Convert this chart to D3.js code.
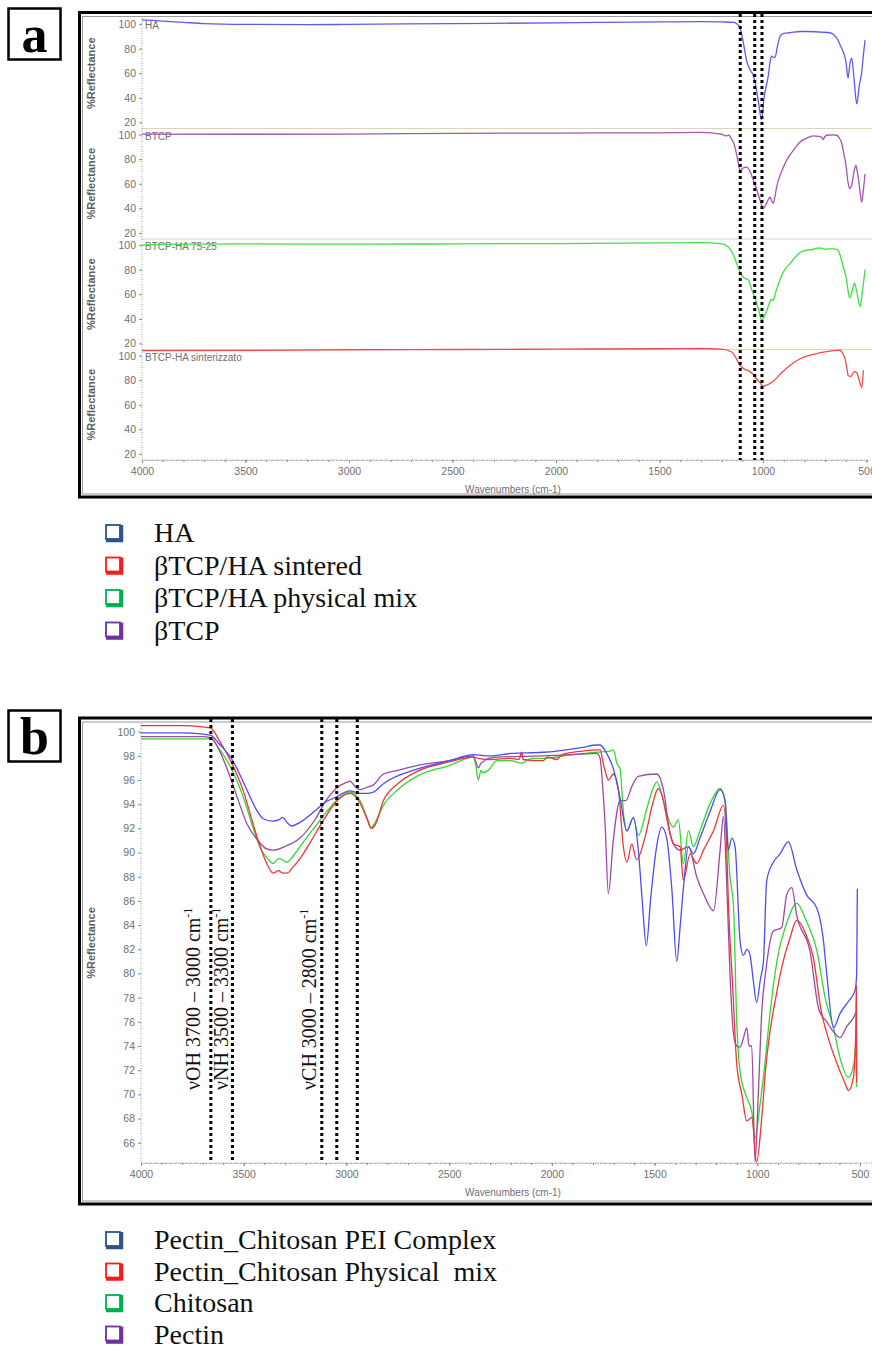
<!DOCTYPE html>
<html lang="en">
  <head>
    <meta charset="UTF-8" />
    <title>FTIR spectra</title>
    <style type="text/css">
      body {
        margin: 0;
        background: #ffffff;
        font-family: Arial, "Liberation Sans", sans-serif;
      }
      svg {
        display: block;
      }
      .axis text {
        font-family: Arial, "Liberation Sans", sans-serif;
        font-size: 10.5px;
        fill: #707070;
      }
      .axis .domain {
        stroke: #9a9a9a;
        stroke-dasharray: 1, 1.5;
      }
      .axis .tick line {
        stroke: #8a8a8a;
      }
      .axis-title {
        font-family: Arial, "Liberation Sans", sans-serif;
        font-size: 10px;
        fill: #707070;
      }
      .ylabel {
        font-size: 11px;
        font-weight: bold;
        fill: #5a5a5a;
      }
      .legend-text {
        font-family: "Times New Roman", "Liberation Serif", serif;
        font-size: 28px;
        fill: #111;
        white-space: pre;
      }
      .band-label {
        font-family: "Times New Roman", "Liberation Serif", serif;
        font-size: 20px;
        fill: #111;
      }
    </style>
  </head>
  <body>
    <script src="https://d3js.org/d3.v7.min.js"></script>
    <script>
      // ---- panel a : [wavenumber, %reflectance] ----
      var haSpectrum = [
        [4000, 103.5], [3900, 102.5], [3800, 101.5], [3700, 100.5], [3500, 99.8],
        [3200, 99.6], [3000, 99.8], [2500, 100.5], [2000, 101], [1800, 101.5],
        [1500, 101.8], [1300, 102], [1200, 101.8], [1140, 101.5], [1125, 100],
        [1111, 97], [1095, 85], [1079, 70], [1060, 62], [1047, 58.5], [1025, 40],
        [1007, 22], [995, 40], [975, 57.5], [965, 70], [958, 74], [950, 73],
        [942, 73], [930, 82], [918, 90], [900, 92.5], [870, 93], [820, 94],
        [790, 94], [720, 93.5], [676, 93], [650, 90], [638, 87], [625, 82],
        [614, 78], [600, 70], [589, 56], [580, 68], [571, 72], [560, 55],
        [547, 35], [535, 50], [523, 61], [515, 75], [507, 87]
      ];
      var btcpSpectrum = [
        [4000, 100.5], [3500, 100.3], [3000, 100.5], [2500, 101], [2000, 101.3],
        [1500, 101.5], [1300, 101.8], [1200, 100.5], [1180, 99], [1165, 99.5],
        [1150, 96], [1140, 92.5], [1125, 82], [1111, 71], [1095, 73], [1079, 73.5],
        [1060, 69], [1047, 63], [1030, 55], [1015, 47], [999, 40], [983, 44],
        [975, 47], [966, 49], [958, 46], [950, 44], [942, 50], [934, 57.5],
        [910, 70], [886, 79], [850, 88], [821, 94], [790, 97], [757, 99],
        [730, 98.5], [717, 98], [710, 96], [700, 98.5], [693, 99.5], [660, 99.8],
        [645, 99.5], [630, 97], [620, 93], [610, 85], [598, 73.6], [590, 62],
        [582, 56], [570, 60], [558, 72], [551, 75], [545, 70], [538, 63],
        [530, 52], [523, 45], [515, 55], [507, 68]
      ];
      var mixSpectrum = [
        [4000, 100], [3800, 100.8], [3500, 101], [3000, 100.8], [2500, 101],
        [2000, 101.3], [1500, 101.8], [1300, 102], [1200, 101], [1160, 97],
        [1143, 92], [1125, 84], [1111, 78], [1090, 73], [1072, 72], [1055, 64],
        [1039, 57], [1020, 47], [1007, 38.4], [998, 41], [990, 43], [975, 50],
        [966, 54], [958, 56], [950, 55], [942, 60], [934, 64], [918, 72],
        [902, 78], [870, 85], [821, 94], [790, 96], [760, 96.5], [740, 97.5],
        [717, 97.6], [700, 96.5], [690, 97], [660, 97], [638, 96], [628, 92],
        [615, 84], [598, 73], [590, 64], [582, 57], [570, 62], [558, 69],
        [548, 63], [531, 50], [520, 62], [507, 80]
      ];
      var sinteredSpectrum = [
        [4000, 104], [3500, 104.3], [3000, 104.8], [2500, 105], [2000, 105.3],
        [1500, 105.6], [1300, 105.8], [1200, 105.3], [1152, 103], [1130, 98],
        [1111, 92], [1090, 89], [1072, 88], [1050, 85], [1031, 81], [1015, 78],
        [999, 75], [985, 76], [975, 76.5], [960, 78], [950, 79], [930, 82.5],
        [910, 86], [870, 92], [821, 97.5], [780, 100], [741, 101.7], [700, 103],
        [660, 104], [628, 104.4], [615, 102], [604, 97.5], [595, 90], [588, 83.6],
        [575, 83], [560, 87], [547, 86], [535, 80], [523, 74], [515, 88]
      ];

      var panelASeries = [haSpectrum, btcpSpectrum, mixSpectrum, sinteredSpectrum];
      var panelANames = ["HA", "BTCP", "BTCP-HA 75-25", "BTCP-HA sinterizzato"];
      var panelAColors = ["#5c5cf2", "#a556ad", "#3fe03f", "#f24a4a"];
      var panelAMarks = [1110, 1040, 1005];
      var panelAYTicks = [20, 40, 60, 80, 100];

      // ---- panel b ----
      var peiSpectrum = [
        [4000, 99.9], [3800, 99.9], [3700, 99.8], [3660, 99.7], [3620, 99],
        [3553, 97.6], [3485, 95.2], [3440, 93.6], [3405, 92.8], [3360, 92.6],
        [3330, 92.7], [3310, 92.9], [3290, 92.5], [3266, 92.2], [3226, 92.5],
        [3150, 93.5], [3100, 94.2], [3050, 94.6], [2982, 95.1], [2934, 94.9],
        [2900, 94.9], [2869, 95], [2820, 95.7], [2658, 96.9], [2500, 97.6],
        [2382, 98.1], [2300, 98], [2200, 98.2], [2043, 98.3], [1976, 98.4],
        [1850, 98.7], [1781, 98.9], [1765, 98.9], [1733, 98.2], [1700, 96.9],
        [1668, 94.5], [1635, 91.8], [1603, 92.9], [1579, 90.2], [1560, 86],
        [1540, 82.3], [1520, 86], [1490, 90.5], [1465, 92.1], [1441, 91.2],
        [1416, 87], [1392, 81], [1375, 84], [1360, 87], [1335, 90.5],
        [1311, 89.9], [1279, 91.2], [1230, 93.4], [1181, 95.2], [1157, 94.3],
        [1141, 90.2], [1124, 91.2], [1108, 90.5], [1084, 82.7], [1068, 81.5],
        [1050, 82], [1035, 81.5], [1020, 79.5], [1003, 77.6], [985, 79.5],
        [970, 81], [954, 87.7], [922, 89.2], [889, 89.9], [849, 90.9],
        [808, 88.6], [760, 86.5], [710, 85.4], [680, 83], [662, 80], [629, 75.5],
        [597, 76.7], [556, 77.7], [524, 78.6], [516, 80], [513, 87]
      ];
      var physMixSpectrum = [
        [4000, 100.5], [3800, 100.5], [3700, 100.4], [3660, 100.3], [3620, 99.3],
        [3550, 97.1], [3500, 95], [3455, 92.4], [3420, 90.5], [3388, 89.1],
        [3357, 88.3], [3330, 88.5], [3310, 88.3], [3290, 88.3], [3260, 88.8],
        [3226, 89.5], [3150, 91.6], [3100, 93], [3050, 94.2], [2982, 94.9],
        [2934, 94.1], [2900, 92.8], [2880, 92], [2860, 92.3], [2820, 94.3],
        [2750, 95.7], [2658, 96.7], [2500, 97.5], [2382, 97.9], [2358, 97.8],
        [2300, 97.7], [2200, 97.8], [2160, 97.7], [2147, 98.3], [2140, 97.7],
        [2043, 97.6], [2020, 97.9], [1976, 97.7], [1950, 98.1], [1850, 98.4],
        [1781, 98.5], [1765, 98.5], [1750, 97.4], [1733, 96.3], [1725, 96],
        [1700, 96.5], [1676, 95.2], [1652, 90.5], [1635, 89.2], [1611, 90.7],
        [1587, 89.4], [1546, 91.3], [1510, 94], [1482, 95.3], [1460, 94.5],
        [1441, 92.9], [1408, 90.7], [1376, 90.5], [1360, 87.7], [1327, 89.9],
        [1295, 89.1], [1262, 90.2], [1213, 91.8], [1165, 93.9], [1150, 91],
        [1141, 86], [1120, 79], [1100, 72.5], [1075, 70], [1051, 67.8],
        [1027, 68.1], [1003, 64.4], [980, 67.7], [960, 72], [938, 75.2],
        [910, 78], [881, 80.5], [840, 83], [808, 84.4], [760, 83.1], [727, 81.3],
        [690, 77], [646, 74.2], [597, 71.9], [570, 70.8], [556, 70.3],
        [532, 71.4], [521, 75], [518, 79], [516, 71]
      ];
      var chitosanSpectrum = [
        [4000, 99.4], [3800, 99.4], [3700, 99.4], [3660, 99.4], [3620, 98.6],
        [3550, 96.6], [3500, 94.5], [3455, 92.1], [3420, 90.4], [3388, 89.6],
        [3357, 89.1], [3330, 89.5], [3310, 89.4], [3290, 89.2], [3260, 89.7],
        [3226, 90.5], [3150, 92.2], [3100, 93.3], [3050, 94.3], [2982, 95],
        [2934, 94.3], [2900, 92.9], [2880, 92.1], [2860, 92.5], [2820, 93.9],
        [2750, 95.2], [2658, 96.3], [2500, 97.2], [2382, 97.9], [2370, 97.2],
        [2358, 96], [2345, 96.8], [2335, 96.6], [2310, 96.8], [2268, 97.6],
        [2200, 97.6], [2147, 97.4], [2100, 97.8], [2043, 97.8], [1900, 98.1],
        [1781, 98.3], [1717, 98.4], [1700, 98.5], [1684, 97.4], [1668, 96.9],
        [1650, 93], [1635, 91.8], [1603, 92.9], [1579, 91.4], [1540, 93.5],
        [1510, 95.2], [1489, 95.85], [1465, 94.8], [1441, 93.2], [1408, 92.1],
        [1384, 92.7], [1360, 89.1], [1335, 91.8], [1311, 90.5], [1279, 91.8],
        [1230, 94.05], [1181, 95.3], [1157, 94.3], [1133, 88], [1116, 85.6],
        [1100, 76], [1084, 71.9], [1051, 69.7], [1027, 68.6], [1011, 66.4],
        [987, 69.1], [960, 73], [938, 76.7], [897, 81.7], [860, 84], [808, 85.8],
        [760, 84.3], [710, 81.9], [670, 78], [629, 75.5], [597, 73], [557, 71.4],
        [530, 72.5], [520, 73.9], [517, 70.6]
      ];
      var pectinSpectrum = [
        [4000, 99.6], [3800, 99.6], [3700, 99.6], [3660, 99.5], [3620, 98.5],
        [3567, 96.3], [3520, 94], [3485, 92.4], [3440, 91.2], [3388, 90.3],
        [3357, 90.2], [3300, 90.5], [3226, 91.2], [3150, 92.8], [3100, 94.3],
        [3050, 95.3], [3000, 95.8], [2982, 95.9], [2960, 95.5], [2934, 95.2],
        [2900, 95.4], [2869, 95.6], [2820, 96.5], [2750, 96.8], [2658, 97.2],
        [2500, 97.6], [2382, 98], [2370, 97.5], [2358, 97], [2345, 97.4],
        [2335, 97.5], [2310, 97.8], [2268, 97.9], [2043, 98], [1900, 98.1],
        [1781, 98.2], [1765, 97.8], [1755, 96], [1741, 92.4], [1725, 86.6],
        [1701, 91], [1668, 94.3], [1640, 94.3], [1610, 95.5], [1580, 96.3],
        [1489, 96.5], [1457, 95.2], [1425, 91.6], [1400, 90.5], [1376, 90.2],
        [1335, 90.5], [1295, 88], [1262, 86.6], [1213, 85.2], [1181, 90.2],
        [1165, 93], [1150, 88], [1133, 80], [1116, 75], [1100, 74], [1084, 73.9],
        [1070, 74.5], [1051, 75.5], [1040, 74], [1027, 74], [1011, 64.4],
        [995, 70], [978, 76.9], [960, 80], [922, 83.5], [881, 83.8], [857, 86.5],
        [832, 87.1], [808, 84.8], [743, 81.8], [700, 77], [662, 76], [630, 75.2],
        [597, 74.7], [565, 75.6], [524, 76.6], [515, 77]
      ];

      var panelBSeries = [chitosanSpectrum, pectinSpectrum, physMixSpectrum, peiSpectrum];
      var panelBColors = ["#33d833", "#9a4aa2", "#f23434", "#4d4df5"];
      var panelBMarks = [3660, 3555, 3120, 3047, 2947];
      var panelBYTicks = [66, 68, 70, 72, 74, 76, 78, 80, 82, 84, 86, 88, 90, 92, 94, 96, 98, 100];
      var bandLabels = [
        { wn: 3712, name: "νOH 3700 – 3000 cm" },
        { wn: 3578, name: "νNH 3500 – 3300 cm" },
        { wn: 3150, name: "νCH 3000 – 2800 cm" }
      ];

      var xTicks = [4000, 3500, 3000, 2500, 2000, 1500, 1000, 500];
      var xMinorTicks = d3.range(500, 4001, 100);

      var legendA = ["HA", "βTCP/HA sintered", "βTCP/HA physical mix", "βTCP"];
      var legendAColors = ["#2f528f", "#ff1a1a", "#00b050", "#7030a0"];
      var legendB = ["Pectin_Chitosan PEI Complex", "Pectin_Chitosan Physical  mix", "Chitosan", "Pectin"];
      var legendBColors = ["#2f528f", "#ff1a1a", "#00b050", "#7030a0"];

      var svg = d3.select("body").append("svg").attr("width", 872).attr("height", 1353);

      function panelFrame(top, bottom) {
        svg.append("rect")
          .attr("x", 79.5).attr("y", top)
          .attr("width", 900).attr("height", bottom - top)
          .attr("fill", "none").attr("stroke", "#000").attr("stroke-width", 3);
        svg.append("rect")
          .attr("x", 82.5).attr("y", top + 4)
          .attr("width", 900).attr("height", bottom - top - 7)
          .attr("fill", "none").attr("stroke", "#9a9a9a").attr("stroke-width", 1);
      }

      function panelTag(letter, x, y) {
        svg.append("rect")
          .attr("x", x).attr("y", y).attr("width", 52).attr("height", 51)
          .attr("fill", "#fff").attr("stroke", "#000").attr("stroke-width", 2.5);
        svg.append("text")
          .attr("x", x + 26).attr("y", y + 43)
          .attr("text-anchor", "middle")
          .attr("font-family", "'Times New Roman', 'Liberation Serif', serif")
          .attr("font-weight", "bold")
          .attr("font-size", 52)
          .text(letter);
      }

      function xAxes(x, yPos) {
        svg.append("g").attr("class", "axis")
          .attr("transform", `translate(0,${yPos})`)
          .call(d3.axisBottom(x).tickValues(xMinorTicks).tickSize(2).tickFormat(""));
        svg.append("g").attr("class", "axis")
          .attr("transform", `translate(0,${yPos})`)
          .call(d3.axisBottom(x).tickValues(xTicks).tickSize(3).tickPadding(5).tickFormat(d3.format("d")))
          .call((g) => g.select(".domain").remove());
      }

      function legend(items, colors, top, step) {
        var row = svg.append("g").selectAll("g")
          .data(items).join("g")
          .attr("transform", (d, i) => `translate(0,${top + i * step})`);
        row.append("rect")
          .attr("x", 106).attr("y", -8).attr("width", 14).attr("height", 14)
          .attr("fill", "#fff")
          .attr("stroke", (d, i) => colors[i]).attr("stroke-width", 1.8);
        row.append("path")
          .attr("d", "M106,7.5 L121.5,7.5 L121.5,-8")
          .attr("fill", "none")
          .attr("stroke", (d, i) => colors[i]).attr("stroke-width", 3.5);
        row.append("text")
          .attr("class", "legend-text")
          .attr("x", 154).attr("y", 9)
          .text((d) => d);
      }

      // ================= panel a =================
      panelTag("a", 8.5, 8.5);
      panelFrame(12.5, 497);

      var xa = d3.scaleLinear().domain([4000, 500]).range([142, 866.5]);
      var bandTop = 18;
      var bandH = 110.5;

      panelASeries.forEach((series, i) => {
        var top = bandTop + i * bandH;
        var ya = d3.scaleLinear().domain([15, 105]).range([top + bandH, top]);

        if (i > 0) {
          svg.append("line")
            .attr("x1", 142).attr("x2", 872)
            .attr("y1", top).attr("y2", top)
            .attr("stroke", "#d9d6bd").attr("stroke-width", 1.2);
        }

        svg.append("g").attr("class", "axis")
          .attr("transform", "translate(142,0)")
          .call(d3.axisLeft(ya).tickValues(panelAYTicks).tickSize(3).tickPadding(3))
          .call((g) => g.select(".domain").attr("d", `M0,${top}V${top + bandH}`));

        svg.append("text")
          .attr("class", "axis-title ylabel")
          .attr("transform", `translate(95,${top + bandH / 2}) rotate(-90)`)
          .attr("text-anchor", "middle")
          .text("%Reflectance");

        svg.append("text")
          .attr("class", "axis-title")
          .attr("x", 145).attr("y", top + 11)
          .text(panelANames[i]);

        svg.append("path")
          .datum(series)
          .attr("fill", "none")
          .attr("stroke", panelAColors[i])
          .attr("stroke-width", 1.3)
          .attr("d", d3.line()
            .x((d) => xa(d[0]))
            .y((d) => ya(d[1]))
            .curve(d3.curveMonotoneX));
      });

      var aBottom = bandTop + 4 * bandH;
      xAxes(xa, aBottom);
      svg.append("line")
        .attr("x1", 142).attr("x2", 872).attr("y1", aBottom).attr("y2", aBottom)
        .attr("stroke", "#9a9a9a").attr("stroke-dasharray", "1,1.5");

      svg.append("g")
        .selectAll("line")
        .data(panelAMarks)
        .join("line")
        .attr("x1", (d) => xa(d)).attr("x2", (d) => xa(d))
        .attr("y1", 14).attr("y2", aBottom)
        .attr("stroke", "#000").attr("stroke-width", 3)
        .attr("stroke-dasharray", "3,3");

      svg.append("text")
        .attr("class", "axis-title")
        .attr("x", 513).attr("y", 493)
        .attr("text-anchor", "middle")
        .text("Wavenumbers (cm-1)");

      legend(legendA, legendAColors, 533, 32.5);

      // ================= panel b =================
      panelTag("b", 8.5, 710.5);
      panelFrame(718, 1204);

      var xb = d3.scaleLinear().domain([4000, 500]).range([141, 860]);
      var yb = d3.scaleLinear().domain([100, 66]).range([731.7, 1142.7]);
      var bTop = 723;
      var bBottom = 1163;

      svg.append("g").attr("class", "axis")
        .attr("transform", "translate(141,0)")
        .call(d3.axisLeft(yb).tickValues(panelBYTicks).tickSize(3).tickPadding(3))
        .call((g) => g.select(".domain").attr("d", `M0,${bTop}V${bBottom}`));

      xAxes(xb, bBottom);
      svg.append("line")
        .attr("x1", 141).attr("x2", 872).attr("y1", bBottom).attr("y2", bBottom)
        .attr("stroke", "#9a9a9a").attr("stroke-dasharray", "1,1.5");

      svg.append("text")
        .attr("class", "axis-title ylabel")
        .attr("transform", `translate(95,${(bTop + bBottom) / 2}) rotate(-90)`)
        .attr("text-anchor", "middle")
        .text("%Reflectance");

      svg.append("text")
        .attr("class", "axis-title")
        .attr("x", 513).attr("y", 1196)
        .attr("text-anchor", "middle")
        .text("Wavenumbers (cm-1)");

      panelBSeries.forEach((series, i) => {
        svg.append("path")
          .datum(series)
          .attr("fill", "none")
          .attr("stroke", panelBColors[i])
          .attr("stroke-width", 1.3)
          .attr("d", d3.line()
            .x((d) => xb(d[0]))
            .y((d) => yb(d[1]))
            .curve(d3.curveMonotoneX));
      });

      svg.append("g")
        .selectAll("line")
        .data(panelBMarks)
        .join("line")
        .attr("x1", (d) => xb(d)).attr("x2", (d) => xb(d))
        .attr("y1", 719).attr("y2", bBottom)
        .attr("stroke", "#000").attr("stroke-width", 3)
        .attr("stroke-dasharray", "3,3");

      var bandText = svg.append("g")
        .selectAll("text")
        .data(bandLabels)
        .join("text")
        .attr("class", "band-label")
        .attr("transform", (d) => `translate(${xb(d.wn)},1090) rotate(-90)`);
      bandText.append("tspan").text((d) => d.name);
      bandText.append("tspan").attr("dy", -8).attr("font-size", 12).text("-1");

      legend(legendB, legendBColors, 1240, 31.5);
    </script>
  </body>
</html>
